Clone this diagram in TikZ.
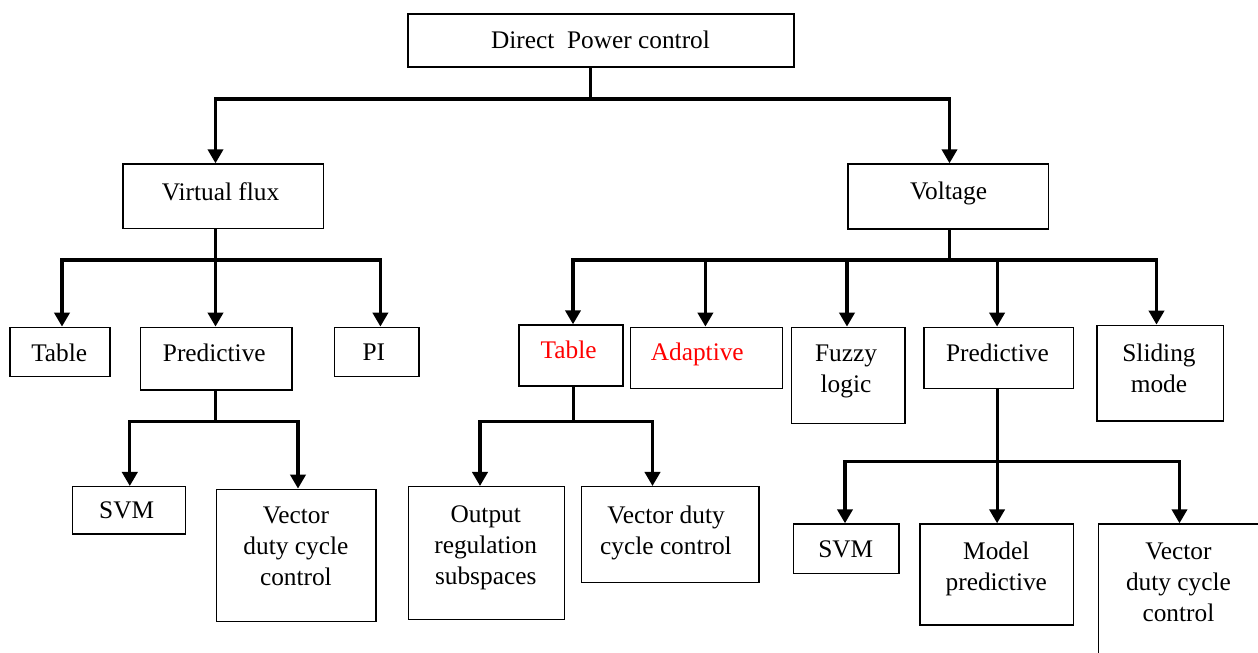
\documentclass[tikz,border=0pt]{standalone}
\usepackage{fontspec}
\setmainfont{Liberation Serif}
\usetikzlibrary{arrows.meta,fit}

\begin{document}
\begin{tikzpicture}[x=0.75pt,y=-0.75pt,
  box/.style={draw, line width=1.1pt, inner sep=0pt},
  lbl/.style={inner sep=0pt, anchor=north, align=center,
              font=\fontsize{19}{23.25}\selectfont},
  hot/.style={lbl, text=red},
  conn/.style={line width=2.3pt},
  arr/.style={conn, -{Triangle[width=11.5pt,length=10.5pt]}},
]
\clip (0,0) rectangle (1258,653);

% ---- boxes ----
\node[box, fit={(408,14) (794,67)}]          (dpc)   {};
\node[box, fit={(123,164) (323.7,228.7)}]    (vf)    {};
\node[box, fit={(847.8,164) (1048.4,229)}]   (volt)  {};
\node[box, fit={(10.2,327.3) (109.8,376.7)}] (tblL)  {};
\node[box, fit={(140.4,327.3) (292.2,390)}]  (predL) {};
\node[box, fit={(334.7,327.3) (418.8,376.7)}](pi)    {};
\node[box, fit={(72.7,486.7) (185.7,534)}]   (svmL)  {};
\node[box, fit={(216.3,489.3) (375.9,621.3)}](vecL)  {};
\node[box, fit={(519.2,325) (622.9,386)}]    (tblR)  {};
\node[box, fit={(630.6,327.3) (782.7,388.3)}](adapt) {};
\node[box, fit={(791.7,327.3) (904.8,423.3)}](fuzzy) {};
\node[box, fit={(923.9,327.3) (1073.6,388.3)}](predR){};
\node[box, fit={(1096.8,325.3) (1223.3,421)}](slide) {};
\node[box, fit={(408.6,486.7) (564.5,619.3)}](outreg){};
\node[box, fit={(581.6,486.7) (759.1,582.3)}](vecM)  {};
\node[box, fit={(793.3,524) (899.1,573.3)}]  (svmR)  {};
\node[box, fit={(919.8,524) (1073.6,625)}]   (model) {};
\node[box, fit={(1098.4,524) (1275,675)}]    (vecR)  {};

% ---- labels ----
\node[lbl] (dpc-t)   at (600.5,31)    {Direct\ \ Power control};
\node[lbl] (vf-t)    at (220.5,182)   {Virtual flux};
\node[lbl] (volt-t)  at (948.5,182)   {Voltage};
\node[lbl] (tblL-t)  at (59.2,343.3)  {Table};
\node[lbl] (predL-t) at (214.3,343.3) {Predictive};
\node[lbl] (pi-t)    at (373.9,343.3) {PI};
\node[hot] (tblR-t)  at (568.6,340.7) {Table};
\node[hot] (adapt-t) at (697.3,342.7) {Adaptive};
\node[lbl] (fuzzy-t) at (846,345)     {Fuzzy\\logic};
\node[lbl] (predR-t) at (997.5,343.3) {Predictive};
\node[lbl] (slide-t) at (1159,343.3)  {Sliding\\mode};
\node[lbl] (svmL-t)  at (126.7,501.7) {SVM};
\node[lbl] (vecL-t)  at (295.9,506.7) {Vector\\duty cycle\\control};
\node[lbl] (out-t)   at (485.7,505)   {Output\\regulation\\subspaces};
\node[lbl] (vecM-t)  at (666,506)     {Vector duty\\cycle control};
\node[lbl] (svmR-t)  at (845.8,540)   {SVM};
\node[lbl] (model-t) at (996.3,541.7) {Model\\predictive};
\node[lbl] (vecR-t)  at (1178.4,542.7){Vector\\duty cycle\\control};

% ---- junction points on the buses ----
\coordinate (j0) at (590.6,99);
\coordinate (c-vf) at (215.5,99);
\coordinate (c-volt) at (949.5,99);

\coordinate (j1) at (215.5,260);
\coordinate (c-tblL) at (62,260);
\coordinate (c-pi) at (380.4,260);

\coordinate (j2) at (949.5,260);
\coordinate (c-tblR) at (573,260);
\coordinate (c-adapt) at (705.4,260);
\coordinate (c-fuzzy) at (847,260);
\coordinate (c-predR) at (997.1,260);
\coordinate (c-slide) at (1156.5,260);

\coordinate (j3) at (215.5,421.7);
\coordinate (c-svmL) at (129.8,421.7);
\coordinate (c-vecL) at (298,421.7);

\coordinate (j4) at (573.5,421.7);
\coordinate (c-out) at (480,421.7);
\coordinate (c-vecM) at (652.5,421.7);

\coordinate (j5) at (997.1,461.7);
\coordinate (c-svmR) at (845,461.7);
\coordinate (c-vecR) at (1179.5,461.7);

% ---- connectors ----
\draw[conn] (j0 |- dpc.south) -- (j0);
\draw[arr] (j0) -| (c-vf |- vf.north);
\draw[arr] (j0) -| (c-volt |- volt.north);

\draw[conn] (j1 |- vf.south) -- (j1);
\draw[arr] (j1) -| (c-tblL |- tblL.north);
\draw[arr] (j1) -- (j1 |- predL.north);
\draw[arr] (j1) -| (c-pi |- pi.north);

\draw[conn] (j2 |- volt.south) -- (j2);
\draw[arr] (j2) -| (c-tblR |- tblR.north);
\draw[arr] (j2) -| (c-adapt |- adapt.north);
\draw[arr] (j2) -| (c-fuzzy |- fuzzy.north);
\draw[arr] (j2) -| (c-predR |- predR.north);
\draw[arr] (j2) -| (c-slide |- slide.north);

\draw[conn] (j3 |- predL.south) -- (j3);
\draw[arr] (j3) -| (c-svmL |- svmL.north);
\draw[arr] (j3) -| (c-vecL |- vecL.north);

\draw[conn] (j4 |- tblR.south) -- (j4);
\draw[arr] (j4) -| (c-out |- outreg.north);
\draw[arr] (j4) -| (c-vecM |- vecM.north);

\draw[conn] (j5 |- predR.south) -- (j5);
\draw[arr] (j5) -| (c-svmR |- svmR.north);
\draw[arr] (j5) -- (j5 |- model.north);
\draw[arr] (j5) -| (c-vecR |- vecR.north);
\end{tikzpicture}
\end{document}
